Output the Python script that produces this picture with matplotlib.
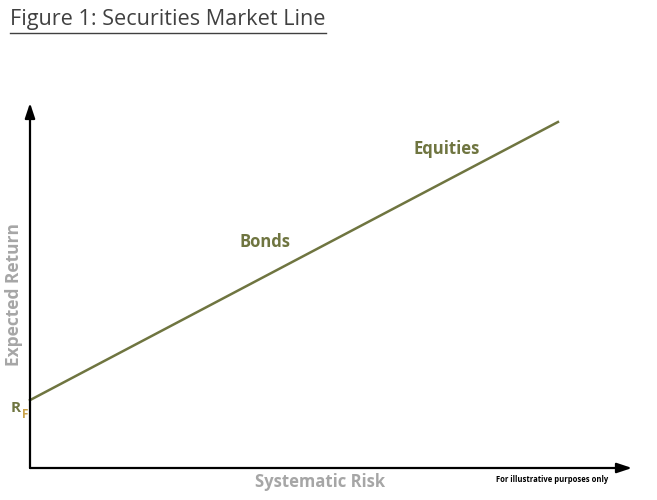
import matplotlib.pyplot as plt
from matplotlib.lines import Line2D

# Securities market line (illustrative units)
risk = [0.0, 8.77]
expected_return = [1.86, 9.48]

labels = ["Bonds", "Equities"]
label_x = [3.9, 6.93]
label_y = [6.2, 8.75]

line_color = "#6f7540"
gray = "#a6a6a6"

fig = plt.figure(figsize=(6.57, 5.0), dpi=100)
ax = fig.add_axes([30 / 657, 32 / 500, 602 / 657, 365 / 500])
ax.set_xlim(0, 10)
ax.set_ylim(0, 10)
ax.axis("off")

# axes with arrows
ax.annotate("", xy=(10, 0), xytext=(0, 0), annotation_clip=False,
            arrowprops=dict(arrowstyle="-|>,head_length=0.9,head_width=0.3",
                            color="black", lw=1.6, shrinkA=0, shrinkB=0))
ax.annotate("", xy=(0, 10), xytext=(0, 0), annotation_clip=False,
            arrowprops=dict(arrowstyle="-|>,head_length=0.9,head_width=0.3",
                            color="black", lw=1.6, shrinkA=0, shrinkB=0))

ax.plot(risk, expected_return, color=line_color, lw=1.8, clip_on=False)

for lab, x, y in zip(labels, label_x, label_y):
    ax.text(x, y, lab, color=line_color, fontsize=12, fontweight="bold",
            family="Open Sans", ha="center", va="center")

fig.text(14 / 657, 1 - 295 / 500, "Expected Return", rotation=90, color=gray,
         fontsize=12.5, fontweight="bold", family="Open Sans",
         ha="center", va="center")
fig.text(320 / 657, 1 - 482 / 500, "Systematic Risk", color=gray,
         fontsize=12, fontweight="bold", family="Open Sans",
         ha="center", va="center")
fig.text(552 / 657, 1 - 479 / 500, "For illustrative purposes only",
         color="black", fontsize=5.5, fontweight="bold", family="Open Sans",
         ha="center", va="center")
fig.text(16 / 657, 1 - 408 / 500, "R", color=line_color,
         fontsize=11, fontweight="bold", family="Open Sans",
         ha="center", va="center")
fig.text(22 / 657, 1 - 414 / 500, "F", color="#c9a24a",
         fontsize=8.5, fontweight="bold", family="Open Sans",
         ha="left", va="center")

fig.text(10 / 657, 1 - 20 / 500, "Figure 1: Securities Market Line",
         color="#404040", fontsize=15.6, family="Open Sans",
         ha="left", va="center")
fig.add_artist(Line2D([10 / 657, 326 / 657], [1 - 33 / 500, 1 - 33 / 500],
                      color="#404040", lw=1.0))

fig.savefig("out.png", dpi=100)
